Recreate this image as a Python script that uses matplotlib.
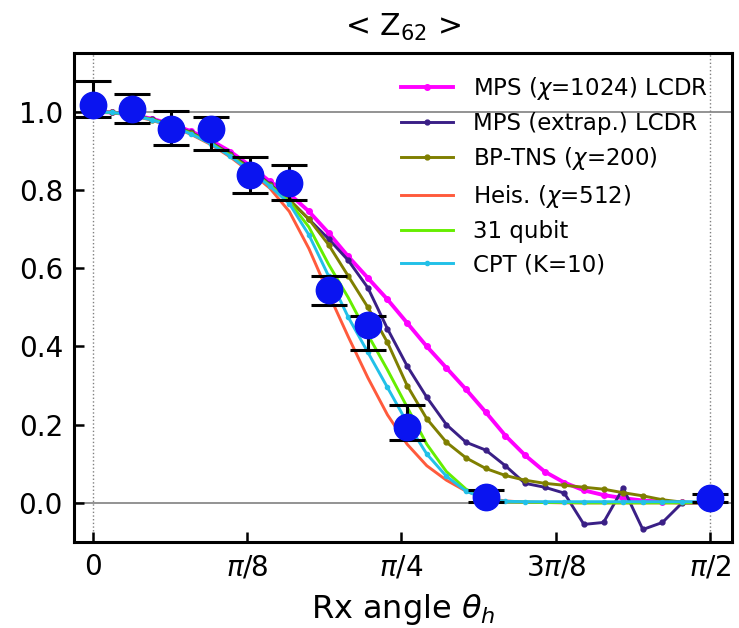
import numpy as np
import matplotlib
matplotlib.use("Agg")
import matplotlib.pyplot as plt

# ---- data ----
theta = [0.00, 0.05, 0.10, 0.15, 0.20, 0.25, 0.30, 0.35, 0.40, 0.45, 0.50, 0.55,
         0.60, 0.65, 0.70, 0.75, 0.80, 0.85, 0.90, 0.95, 1.00, 1.05, 1.10, 1.15,
         1.20, 1.25, 1.30, 1.35, 1.40, 1.45, 1.50, 1.55, np.pi / 2]

mps_1024 = [1.000, 0.998, 0.992, 0.982, 0.968, 0.950, 0.927, 0.898, 0.862, 0.822, 0.790, 0.745,
            0.690, 0.630, 0.575, 0.520, 0.460, 0.400, 0.345, 0.290, 0.232, 0.172, 0.122, 0.080,
            0.052, 0.032, 0.020, 0.012, 0.006, 0.003, 0.001, 0.000, 0.000]
mps_extrap = [1.000, 0.998, 0.991, 0.981, 0.966, 0.947, 0.922, 0.892, 0.857, 0.815, 0.775, 0.725,
              0.675, 0.620, 0.550, 0.445, 0.350, 0.270, 0.200, 0.155, 0.135, 0.095, 0.050, 0.040,
              0.025, -0.055, -0.050, 0.038, -0.068, -0.050, 0.000, 0.000, 0.000]
bp_tns = [1.000, 0.998, 0.991, 0.980, 0.965, 0.946, 0.921, 0.890, 0.854, 0.812, 0.775, 0.725,
          0.660, 0.580, 0.500, 0.410, 0.300, 0.215, 0.155, 0.115, 0.088, 0.070, 0.058, 0.050,
          0.045, 0.040, 0.035, 0.026, 0.018, 0.008, 0.002, 0.000, 0.000]
heis = [1.000, 0.998, 0.990, 0.978, 0.962, 0.942, 0.916, 0.884, 0.846, 0.805, 0.745, 0.650,
        0.535, 0.425, 0.320, 0.225, 0.150, 0.095, 0.058, 0.030, 0.012, 0.005, 0.002, 0.001,
        0.000, 0.000, 0.000, 0.000, 0.000, 0.000, 0.000, 0.000, 0.000]
qubit31 = [1.000, 0.998, 0.991, 0.980, 0.964, 0.944, 0.919, 0.888, 0.851, 0.812, 0.770, 0.705,
           0.610, 0.525, 0.430, 0.340, 0.245, 0.150, 0.080, 0.035, 0.010, 0.003, 0.002, 0.001,
           0.001, 0.000, 0.000, 0.000, 0.000, 0.000, 0.000, 0.000, 0.000]
cpt = [1.000, 0.998, 0.991, 0.979, 0.963, 0.943, 0.918, 0.886, 0.849, 0.810, 0.765, 0.685,
       0.580, 0.475, 0.385, 0.295, 0.205, 0.125, 0.068, 0.030, 0.010, 0.004, 0.003, 0.003,
       0.003, 0.003, 0.003, 0.003, 0.003, 0.003, 0.003, 0.003, 0.003]

exp_theta = [0.0, 0.1, 0.2, 0.3, 0.4, 0.5, 0.6, 0.7, 0.8, 1.0, np.pi / 2]
exp_val = [1.018, 1.007, 0.956, 0.955, 0.839, 0.818, 0.545, 0.455, 0.195, 0.015, 0.012]
exp_err_lo = [0.031, 0.037, 0.040, 0.052, 0.046, 0.045, 0.040, 0.064, 0.034, 0.012, 0.010]
exp_err_hi = [0.061, 0.037, 0.045, 0.032, 0.046, 0.045, 0.035, 0.022, 0.056, 0.018, 0.010]

xtick_vals = [0, np.pi / 8, np.pi / 4, 3 * np.pi / 8, np.pi / 2]
xtick_labels = ["0", r"$\pi/8$", r"$\pi/4$", r"$3\pi/8$", r"$\pi/2$"]
ytick_vals = [0.0, 0.2, 0.4, 0.6, 0.8, 1.0]

# ---- plot ----
fig = plt.figure(figsize=(7.39, 6.28), dpi=100)
ax = fig.add_axes([74 / 739, 1 - 542 / 628, (732 - 74) / 739, (542 - 53) / 628])

ax.axhline(0.0, color="gray", lw=1.2, zorder=0)
ax.axhline(1.0, color="gray", lw=1.2, zorder=0)
ax.axvline(0.0, color="gray", lw=1.0, ls=":", zorder=0)
ax.axvline(np.pi / 2, color="gray", lw=1.0, ls=":", zorder=0)

lw = 2.1
ax.plot(theta, mps_1024, color="#ff00ff", lw=2.8, marker="o", ms=4, label=r"MPS ($\chi$=1024) LCDR", zorder=3)
ax.plot(theta, mps_extrap, color="#3a1f86", lw=lw, marker="o", ms=3.5, label=r"MPS (extrap.) LCDR", zorder=3)
ax.plot(theta, bp_tns, color="#7f7f00", lw=lw, marker="o", ms=3.5, label=r"BP-TNS ($\chi$=200)", zorder=3)
ax.plot(theta, heis, color="#ff5a3c", lw=lw, label=r"Heis. ($\chi$=512)", zorder=3)
ax.plot(theta, qubit31, color="#66ee00", lw=lw, label="31 qubit", zorder=3)
ax.plot(theta, cpt, color="#22c0e8", lw=lw, marker="o", ms=3, label="CPT (K=10)", zorder=3)

ax.errorbar(exp_theta, exp_val, yerr=[exp_err_lo, exp_err_hi], fmt="o", color="#0a14f0",
            ms=19, ecolor="black", elinewidth=2.2, capsize=13, capthick=2.2, zorder=5)

ax.set_xlim(-0.048, 1.627)
ax.set_ylim(-0.1, 1.15)
ax.set_xticks(xtick_vals)
ax.set_xticklabels(xtick_labels)
ax.set_yticks(ytick_vals)
ax.set_yticklabels([f"{v:.1f}" for v in ytick_vals])
ax.tick_params(direction="in", length=7, width=1.8, labelsize=20, pad=8)
for s in ax.spines.values():
    s.set_linewidth(2.2)

ax.set_xlabel(r"Rx angle $\theta_h$", fontsize=23, labelpad=8)
ax.set_title(r"< Z$_{62}$ >", fontsize=21.5, pad=12)

ax.legend(loc="upper right", bbox_to_anchor=(0.994, 0.998), frameon=False, fontsize=16.5,
          handlelength=2.27, handletextpad=0.87, labelspacing=0.45, borderaxespad=0.5)

fig.savefig("out.png", dpi=100)
